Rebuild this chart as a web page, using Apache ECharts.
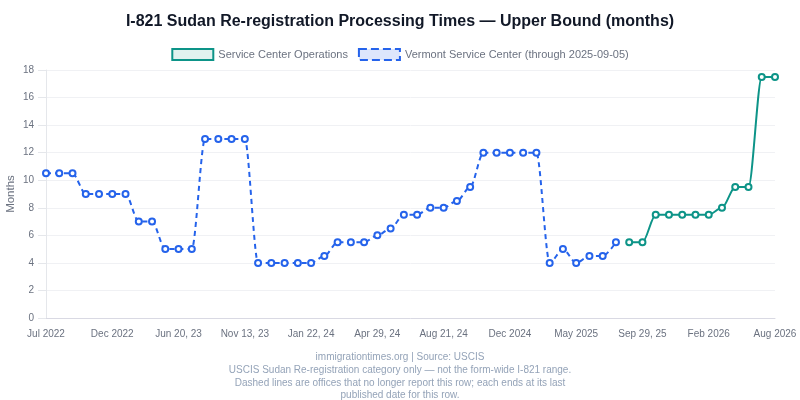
<!DOCTYPE html>
<html>
<head>
<meta charset="utf-8">
<script src="https://cdn.jsdelivr.net/npm/echarts@6/dist/echarts.min.js"></script>
<style>html,body{margin:0;padding:0;background:#fff}#c{width:800px;height:400px}</style>
</head>
<body>
<div id="c"></div>
<script>
const categories = [
  "Jul 2022","Aug 2022","Sep 2022","Oct 2022","Nov 2022",
  "Dec 2022","Jan 2023","Feb 2023","Mar 2023","Apr 2023",
  "Jun 20, 23","Jul 2023","Aug 2023","Sep 2023","Oct 2023",
  "Nov 13, 23","Dec 2023","Dec 18, 23","Jan 2024","Jan 8, 24",
  "Jan 22, 24","Feb 2024","Feb 20, 24","Mar 2024","Apr 2024",
  "Apr 29, 24","May 2024","Jun 2024","Jul 2024","Aug 2024",
  "Aug 21, 24","Sep 2024","Oct 2024","Oct 28, 24","Nov 2024",
  "Dec 2024","Jan 2025","Feb 2025","Mar 2025","Apr 2025",
  "May 2025","Jun 2025","Jul 2025","Aug 2025","Sep 2025",
  "Sep 29, 25","Oct 2025","Nov 2025","Dec 2025","Jan 2026",
  "Feb 2026","Mar 2026","Apr 2026","May 2026","Jun 2026",
  "Aug 2026"
];
const vermontValues = [
  10.5,10.5,10.5,9,9,9,9,7,7,5,
  5,5,13,13,13,13,4,4,4,4,
  4,4.5,5.5,5.5,5.5,6,6.5,7.5,7.5,8,
  8,8.5,9.5,12,12,12,12,12,4,5,
  4,4.5,4.5,5.5
];
const operationsValues = [5.5,5.5,7.5,7.5,7.5,7.5,7.5,8,9.5,9.5,17.5,17.5];
const operationsStart = 44;
const footerLines = [
  'immigrationtimes.org | Source: USCIS',
  'USCIS Sudan Re-registration category only — not the form-wide I-821 range.',
  'Dashed lines are offices that no longer report this row; each ends at its last',
  'published date for this row.'
];

const vermontData = categories.map((c,i) => i < vermontValues.length ? vermontValues[i] : null);
const opsData = categories.map((c,i) => (i >= operationsStart && i - operationsStart < operationsValues.length) ? operationsValues[i - operationsStart] : null);

const blue = '#2563eb', green = '#0d9488';
const chart = echarts.init(document.getElementById('c'));
chart.setOption({
  animation: false,
  textStyle: {fontFamily: 'Liberation Sans, Arial, sans-serif'},
  title: {
    text: 'I-821 Sudan Re-registration Processing Times — Upper Bound (months)',
    left: 'center', top: 9,
    textStyle: {fontSize: 16, fontWeight: 'bold', color: '#111827'}
  },
  graphic: [{
    type: 'text', x: 400, y: 351,
    style: {
      text: footerLines.join('\n'), align: 'center', verticalAlign: 'top',
      fontSize: 10, lineHeight: 12.7, fill: '#94a3b8',
      fontFamily: 'Liberation Sans, Arial, sans-serif'
    }
  }],
  legend: {
    top: 43, left: 'center', itemWidth: 41, itemHeight: 11, itemGap: 10,
    icon: 'rect',
    textStyle: {color: '#6b7280', fontSize: 11},
    data: [
      {name: 'Service Center Operations', itemStyle: {color: '#e1f2ef', borderColor: green, borderWidth: 2}},
      {name: 'Vermont Service Center (through 2025-09-05)', itemStyle: {color: '#dde6fc', borderColor: blue, borderWidth: 2, borderType: 'dashed'}}
    ]
  },
  grid: {left: 46, right: 25, top: 70, bottom: 82, outerBoundsMode: 'none', containLabel: false},
  xAxis: {
    type: 'category', data: categories, boundaryGap: false,
    axisLine: {lineStyle: {color: '#d9d9e3'}},
    axisTick: {show: false},
    axisLabel: {interval: 4, color: '#6b7280', fontSize: 10, margin: 11, hideOverlap: false},
    splitLine: {show: false}
  },
  yAxis: {
    type: 'value', min: 0, max: 18, interval: 2,
    name: 'Months', nameLocation: 'middle', nameGap: 29, nameMoveOverlap: false,
    nameTextStyle: {color: '#6b7280', fontSize: 11.5},
    axisLine: {show: true, lineStyle: {color: '#e5e7eb'}},
    axisTick: {show: true, length: 8, lineStyle: {color: '#e5e7eb'}},
    axisLabel: {color: '#6b7280', fontSize: 10, margin: 12},
    splitLine: {lineStyle: {color: '#f0f1f4'}}
  },
  series: [
    {
      name: 'Service Center Operations', type: 'line', data: opsData,
      smooth: 0.3, smoothMonotone: 'x',
      symbol: 'emptyCircle', symbolSize: 6, showSymbol: true,
      itemStyle: {color: green, borderWidth: 2},
      lineStyle: {color: green, width: 2},
      connectNulls: false
    },
    {
      name: 'Vermont Service Center (through 2025-09-05)', type: 'line', data: vermontData,
      smooth: 0.3, smoothMonotone: 'x',
      symbol: 'emptyCircle', symbolSize: 6, showSymbol: true,
      itemStyle: {color: blue, borderWidth: 2},
      lineStyle: {color: blue, width: 2, type: [5, 4]},
      connectNulls: false
    }
  ]
});
</script>
</body>
</html>
